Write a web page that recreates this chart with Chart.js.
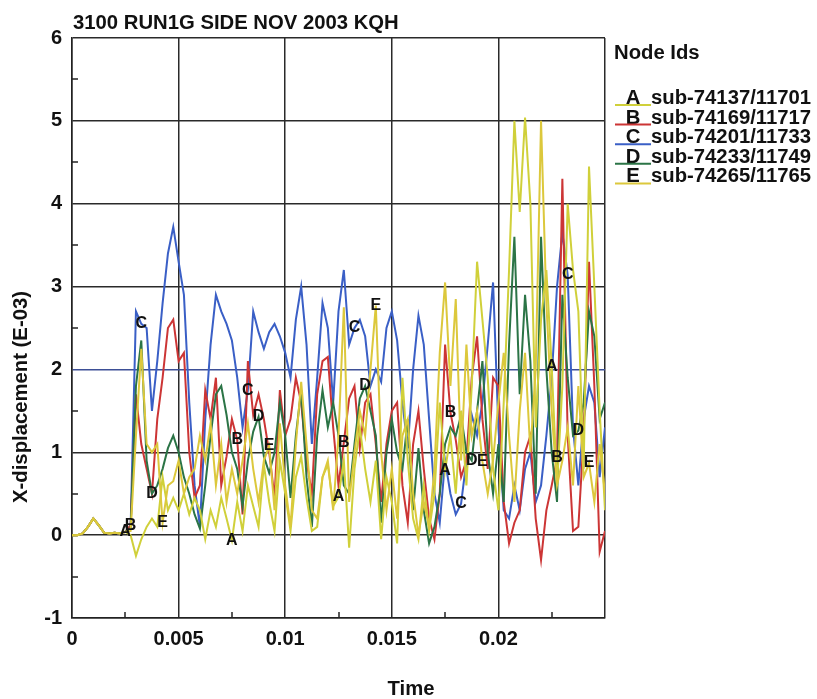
<!DOCTYPE html>
<html>
<head>
<meta charset="utf-8">
<script src="https://cdn.jsdelivr.net/npm/chart.js@4/dist/chart.umd.min.js"></script>
<style>
  html, body { margin: 0; padding: 0; background: #ffffff; }
  #wrap { position: relative; width: 817px; height: 699px; }
</style>
</head>
<body>
<div id="wrap"><canvas id="c" width="817" height="699"></canvas></div>
<script>
// X-displacement (E-03) of five nodes against time, sampled every 0.00025 s
const TIME_STEP = 0.00025;

const nodeA = [0, 0, 0.02, 0.1, 0.2, 0.12, 0.03, 0.02, 0.03, 0.02, 0.04,
  0.0, -0.25, -0.05, 0.1, 0.2, 0.1, 0.7, 0.3, 0.45, 0.3,
  0.5, 0.25, 0.45, 0.3, -0.05, 0.3, 0.1, 0.45, 0.2, -0.06,
  0.4, 0.05, 0.6, 0.35, 0.1, 0.85, 0.4, 0.05, 0.9, 0.5,
  0.05, 0.7, 0.95, 0.45, 0.05, 0.1, 0.7, 0.85, 0.35, 0.46,
  0.9, -0.15, 0.8, 1.3, 0.8, 0.4, 0.9, -0.05, 0.7, 0.4,
  -0.1, 1.9, 0.9, 0.2, -0.05, 0.6, 0.05, 0.5, 1.6, 0.78,
  1.2, 0.5, 1.5, 0.6, 1.8, 3.3, 2.6, 1.9, 0.8, 0.3,
  1.6, 3.2, 5.0, 3.9, 5.04, 4.0, 1.3, 2.6, 3.2, 2.04,
  0.6, 1.8, 4.0, 3.2, 2.7, 0.8, 4.45, 3.0, 1.5, 0.3];

const nodeB = [0, 0, 0.02, 0.1, 0.2, 0.12, 0.03, 0.02, 0.03, 0.02, 0.04,
  0.12, 1.7, 1.1, 0.8, 0.5, 1.4, 1.9, 2.5, 2.6, 2.1,
  2.2, 1.0, 0.45, 0.6, 1.75, 1.4, 1.9, 0.6, 0.95, 1.4,
  1.15, 0.25, 2.1, 1.45, 1.7, 1.4, 1.0, 0.45, 1.75, 1.2,
  1.4, 1.9, 1.6, 0.9, 0.5, 1.7, 2.1, 2.15, 1.3, 0.6,
  1.12, 1.65, 1.8, 1.05, 1.6, 1.7, 1.1, 0.4, 1.1, 1.5,
  1.6, 0.6, 0.15, 1.1, 1.5, 0.8, 0.2, -0.05, 0.5, 2.3,
  1.48, 1.15, 0.7, 0.9, 1.9, 2.4, 1.4, 0.8, 1.9, 1.8,
  0.4, -0.1, 0.15, 0.3, 1.0, 1.2, 0.2, -0.3, 0.3, 0.6,
  0.93, 4.3, 1.2, 0.05, 0.1, 1.2, 3.3, 1.8, -0.2, 0.05];

const nodeC = [0, 0, 0.02, 0.1, 0.2, 0.12, 0.03, 0.02, 0.03, 0.02, 0.04,
  0.1, 2.7, 2.55, 2.5, 1.5, 2.1, 2.8, 3.4, 3.72, 3.3,
  2.9, 1.6, 0.6, 0.1, 1.4, 2.3, 2.9, 2.7, 2.55, 2.35,
  1.9, 1.3, 1.75, 2.7, 2.45, 2.25, 2.45, 2.55, 2.4, 2.2,
  1.9, 2.6, 3.0, 2.3, 1.1, 1.9, 2.8, 2.5, 1.6, 2.7,
  3.2, 2.3, 2.5, 2.6, 2.4, 1.8, 2.0, 1.85, 2.5, 2.7,
  2.35, 1.6, 1.05, 2.0, 2.65, 2.3, 1.4, 0.5, 0.15, 0.9,
  0.5, 0.25, 0.38, 0.9, 1.45, 1.2, 1.6, 2.3, 3.05, 1.3,
  0.3, 0.2, 0.6, 0.3, 0.8, 1.0, 0.4, 0.6, 1.2, 1.9,
  3.0, 3.65, 3.14, 1.3, 0.6, 1.4, 1.8, 1.6, 0.7, 1.3];

const nodeD = [0, 0, 0.02, 0.1, 0.2, 0.12, 0.03, 0.02, 0.03, 0.02, 0.04,
  0.08, 1.8, 2.35, 0.9, 0.5, 0.6, 0.8, 1.05, 1.2, 1.0,
  0.7, 0.5, 0.25, 0.08, 0.6, 1.2, 1.7, 1.8, 1.45, 1.0,
  0.8, 0.35, 0.9, 1.25, 1.43, 0.95, 0.75, 1.0, 1.6, 1.2,
  0.45, 1.2, 1.75, 0.7, 0.1, 1.2, 1.75, 1.3, 1.6, 1.2,
  0.6, 0.5, 1.1, 1.65, 1.8, 1.5, 1.2, 0.15, 1.0, 1.4,
  1.0, 0.8, 1.4, 0.3, 1.05, 0.3, -0.1, 0.1, 0.5, 1.1,
  1.3, 1.2, 1.45, 1.0, 0.9, 1.5, 2.1, 1.0, 0.5, 1.1,
  0.4, 2.3, 3.6, 1.7, 2.9, 2.1, 0.5, 3.6, 2.0, 1.0,
  0.4, 2.9, 1.9, 1.2, 1.26, 1.6, 2.7, 2.4, 1.4, 1.6];

const nodeE = [0, 0, 0.02, 0.1, 0.2, 0.12, 0.03, 0.02, 0.03, 0.02, 0.04,
  0.05, 1.2, 2.25, 1.1, 1.0, 1.1, 0.15, 0.6, 0.65, 0.9,
  0.5, 0.7, 0.8, 1.2, 0.9, 1.35, 0.6, 1.1, 0.4, 0.8,
  0.5, 0.9, 1.35, 0.8, 0.4, 0.9, 1.08, 0.3, 1.35, 0.6,
  0.1, 1.1, 1.85, 1.1, 0.3, 0.2, 0.7, 0.9, 0.3, 1.2,
  2.75, 0.4, 1.0, 1.5, 1.2, 2.0, 2.77, 1.0, 0.3, 0.8,
  0.2, 1.2, 1.4, 0.5, 0.0, 0.4, 0.1, 0.8, 2.2, 3.05,
  1.8, 2.85, 0.9, 2.3, 1.2, 1.5, 0.89, 0.5, 0.9, 1.6,
  2.2, 1.2, 0.4, 1.5, 2.2, 1.0, 2.0, 5.0, 2.8, 1.5,
  0.6, 0.9, 1.3, 0.6, 1.8, 0.7, 0.87, 0.4, 1.1, 0.5];

const seriesLetters = ['A', 'B', 'C', 'D', 'E'];
const seriesNames = ['sub-74137/11701', 'sub-74169/11717', 'sub-74201/11733', 'sub-74233/11749', 'sub-74265/11765'];
const seriesColors = ['#d0d03a', '#cc3535', '#3a5fc6', '#2b7446', '#dcc83c'];
// sample indices where each curve carries its identifying letter
const letterAt = [
  [10, 30, 50, 70, 90],
  [11, 31, 51, 71, 91],
  [13, 33, 53, 73, 93],
  [15, 35, 55, 75, 95],
  [17, 37, 57, 77, 97]
];
const xTickValues = [0, 0.005, 0.01, 0.015, 0.02];
const yTickValues = [-1, 0, 1, 2, 3, 4, 5, 6];

const chartTitle = '3100 RUN1G SIDE NOV 2003 KQH';
const yTitle = 'X-displacement (E-03)';
const xTitle = 'Time';
const legendTitle = 'Node Ids';

const FONT = "'Liberation Sans', Arial, Helvetica, sans-serif";
const times = nodeA.map((_, i) => +(i * TIME_STEP).toFixed(6));
const allSeries = [nodeA, nodeB, nodeC, nodeD, nodeE];
const drawOrder = [1, 3, 4, 2, 0];

const datasets = allSeries.map((vals, k) => ({
  label: seriesLetters[k] + ' ' + seriesNames[k],
  data: vals.map((v, i) => ({ x: times[i], y: v })),
  borderColor: seriesColors[k],
  borderWidth: 2,
  pointRadius: 0,
  tension: 0,
  fill: false,
  order: drawOrder[k]
}));

const decorations = {
  id: 'decorations',
  afterDatasetsDraw(chart) {
    const ctx = chart.ctx;
    const xs = chart.scales.x, ys = chart.scales.y;
    const area = chart.chartArea;
    ctx.save();
    // minor ticks inside the plot frame
    ctx.strokeStyle = '#222';
    ctx.lineWidth = 1.5;
    for (let t = 0.0025; t < 0.025; t += 0.005) {
      const px = Math.round(xs.getPixelForValue(t));
      ctx.beginPath(); ctx.moveTo(px, area.bottom); ctx.lineTo(px, area.bottom - 6); ctx.stroke();
    }
    for (let v = -0.5; v < 6; v += 1) {
      const py = Math.round(ys.getPixelForValue(v));
      ctx.beginPath(); ctx.moveTo(area.left, py); ctx.lineTo(area.left + 6, py); ctx.stroke();
    }
    // curve letters
    ctx.fillStyle = '#111';
    ctx.font = 'bold 16px ' + FONT;
    ctx.textAlign = 'center';
    ctx.textBaseline = 'middle';
    chart.data.datasets.forEach((ds, k) => {
      const meta = chart.getDatasetMeta(k);
      letterAt[k].forEach(i => {
        const el = meta.data[i];
        if (el) ctx.fillText(seriesLetters[k], el.x, el.y);
      });
    });
    ctx.restore();
  },
  afterDraw(chart) {
    const ctx = chart.ctx;
    ctx.save();
    ctx.fillStyle = '#111';
    ctx.textBaseline = 'alphabetic';
    // title
    ctx.font = 'bold 20.3px ' + FONT;
    ctx.textAlign = 'left';
    ctx.fillText(chartTitle, 73, 29);
    // axis titles
    ctx.textAlign = 'center';
    ctx.fillText(xTitle, 411, 695);
    ctx.save();
    ctx.translate(27, 397);
    ctx.rotate(-Math.PI / 2);
    ctx.fillText(yTitle, 0, 0);
    ctx.restore();
    // legend
    ctx.textAlign = 'left';
    ctx.fillText(legendTitle, 614, 59);
    ctx.font = 'bold 20.3px ' + FONT;
    seriesLetters.forEach((letter, k) => {
      const base = 104 + k * 19.6;
      ctx.fillStyle = '#111';
      ctx.textAlign = 'center';
      ctx.fillText(letter, 633, base);
      ctx.textAlign = 'left';
      ctx.fillText(seriesNames[k], 651, base);
      ctx.strokeStyle = seriesColors[k];
      ctx.lineWidth = 2;
      ctx.beginPath(); ctx.moveTo(615, base + 1); ctx.lineTo(651, base + 1); ctx.stroke();
    });
    ctx.restore();
  }
};

new Chart(document.getElementById('c'), {
  type: 'line',
  data: { datasets },
  options: {
    responsive: false,
    animation: false,
    devicePixelRatio: 1,
    layout: { padding: { left: 0, top: 38, right: 212, bottom: 0 } },
    plugins: { legend: { display: false }, title: { display: false }, tooltip: { enabled: false } },
    scales: {
      x: {
        type: 'linear',
        min: 0,
        max: 0.025,
        afterFit(s) { s.height = 81; },
        afterBuildTicks(s) { s.ticks = xTickValues.concat([0.025]).map(v => ({ value: v })); },
        ticks: {
          color: '#111',
          font: { family: FONT, size: 20, weight: 'bold' },
          padding: 9,
          maxRotation: 0,
          autoSkip: false,
          callback: (v) => xTickValues.some(t => Math.abs(t - v) < 1e-9) ? String(+v.toFixed(4)) : ''
        },
        grid: { color: '#2a2a2a', lineWidth: 1.5, drawTicks: false },
        border: { color: '#222', width: 1.5 }
      },
      y: {
        min: -1,
        max: 6,
        afterFit(s) { s.width = 72; },
        afterBuildTicks(s) { s.ticks = yTickValues.map(v => ({ value: v })); },
        ticks: {
          color: '#111',
          font: { family: FONT, size: 20, weight: 'bold' },
          padding: 10,
          autoSkip: false,
          callback: (v) => String(v)
        },
        grid: {
          color: (c) => (c.tick && c.tick.value === 2) ? '#3d4f96' : '#2a2a2a',
          lineWidth: 1.5,
          drawTicks: false
        },
        border: { color: '#222', width: 1.5 }
      }
    }
  },
  plugins: [decorations]
});
</script>
</body>
</html>
